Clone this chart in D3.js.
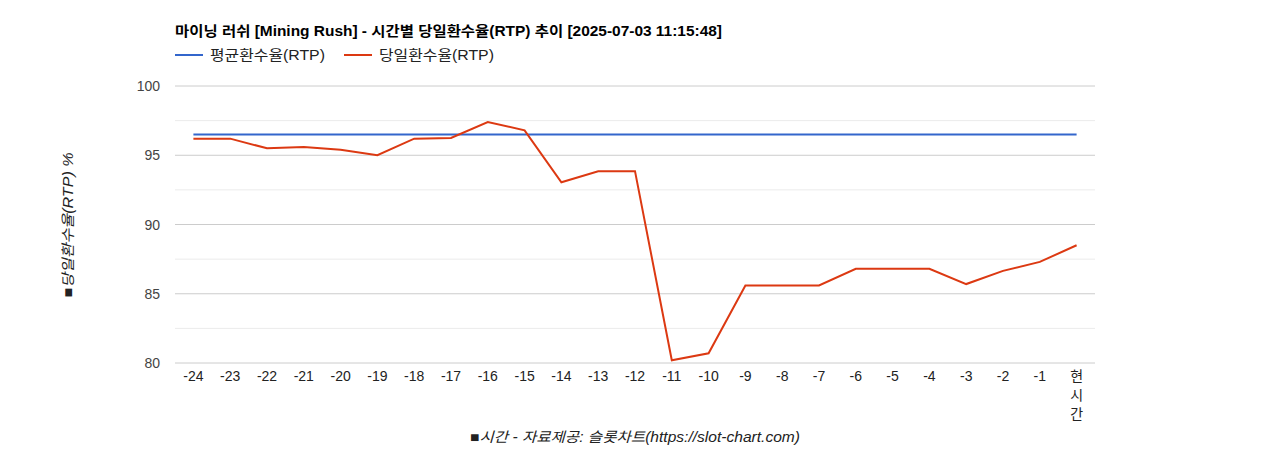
<!DOCTYPE html>
<html><head><meta charset="utf-8">
<script src="https://cdn.jsdelivr.net/npm/d3@7"></script>
<style>body{margin:0;background:#fff;font-family:Arial,"Liberation Sans","Noto Sans CJK KR",sans-serif}</style>
</head><body><svg id="c" width="1268" height="450"></svg>
<script>
const categories=["-24","-23","-22","-21","-20","-19","-18","-17","-16","-15","-14","-13","-12","-11","-10","-9","-8","-7","-6","-5","-4","-3","-2","-1","현시간"];
const dailyRTP=[96.2,96.2,95.5,95.6,95.4,95.0,96.2,96.25,97.4,96.8,93.05,93.85,93.85,80.2,80.7,85.6,85.6,85.6,86.8,86.8,86.8,85.7,86.65,87.3,88.5];
const avgRTP=categories.map(()=>96.5);
const yTicks=[80,85,90,95,100];
const minorTicks=[82.5,87.5,92.5,97.5];
const svg=d3.select("#c");
const x=d3.scaleBand().domain(categories).range([175,1095]);
const y=d3.scaleLinear().domain([80,100]).range([363,86]);
const f="Arial,'Liberation Sans','Noto Sans CJK KR',sans-serif";
svg.selectAll(".mg").data(minorTicks).join("line").attr("x1",175).attr("x2",1095).attr("y1",d=>y(d)).attr("y2",d=>y(d)).attr("stroke","#ebebeb");
svg.selectAll(".g").data(yTicks).join("line").attr("x1",175).attr("x2",1095).attr("y1",d=>y(d)).attr("y2",d=>y(d)).attr("stroke","#ccc");
svg.selectAll(".yt").data(yTicks).join("text").attr("x",160).attr("y",d=>y(d)+5).attr("text-anchor","end").attr("font-size",14).attr("fill","#444").attr("font-family",f).text(d=>d);
categories.forEach(c=>{
  const cx=x(c)+x.bandwidth()/2;
  if(c==="현시간"){[...c].forEach((ch,i)=>svg.append("text").attr("x",cx).attr("y",381+i*19).attr("text-anchor","middle").attr("font-size",14).attr("fill","#222").attr("font-family",f).text(ch));}
  else svg.append("text").attr("x",cx).attr("y",381).attr("text-anchor","middle").attr("font-size",14).attr("fill","#222").attr("font-family",f).text(c);
});
const line=d3.line().x((d,i)=>x(categories[i])+x.bandwidth()/2).y(d=>y(d));
svg.append("path").attr("d",line(avgRTP)).attr("fill","none").attr("stroke","#3366cc").attr("stroke-width",2);
svg.append("path").attr("d",line(dailyRTP)).attr("fill","none").attr("stroke","#dc3912").attr("stroke-width",2);
svg.append("text").attr("x",175).attr("y",36).attr("font-size",14).attr("font-weight","bold").attr("fill","#000").attr("font-family",f).attr("textLength",547).attr("lengthAdjust","spacingAndGlyphs").text("마이닝 러쉬 [Mining Rush] - 시간별 당일환수율(RTP) 추이 [2025-07-03 11:15:48]");
[["평균환수율(RTP)","#3366cc",175],["당일환수율(RTP)","#dc3912",344]].forEach(([t,c,lx])=>{
  svg.append("line").attr("x1",lx).attr("x2",lx+28).attr("y1",55).attr("y2",55).attr("stroke",c).attr("stroke-width",2);
  svg.append("text").attr("x",lx+35).attr("y",60).attr("font-size",14).attr("fill","#222").attr("font-family",f).attr("textLength",115).attr("lengthAdjust","spacingAndGlyphs").text(t);
});
svg.append("text").attr("transform","translate(73,225) rotate(-90)").attr("text-anchor","middle").attr("font-size",14).attr("font-style","italic").attr("fill","#222").attr("font-family",f).attr("textLength",145).attr("lengthAdjust","spacingAndGlyphs").text("■당일환수율(RTP) %");
svg.append("text").attr("x",635).attr("y",442).attr("text-anchor","middle").attr("font-size",14).attr("font-style","italic").attr("fill","#222").attr("font-family",f).attr("textLength",330).attr("lengthAdjust","spacingAndGlyphs").text("■시간 - 자료제공: 슬롯차트(https://slot-chart.com)");
</script></body></html>
